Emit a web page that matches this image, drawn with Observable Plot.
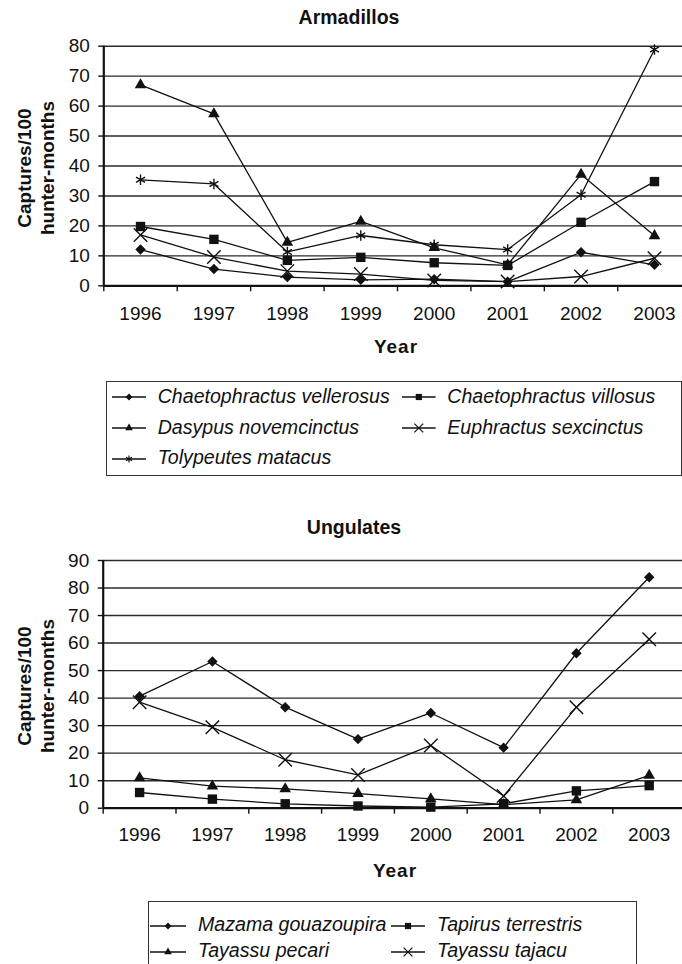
<!DOCTYPE html>
<html><head><meta charset="utf-8">
<script src="https://cdn.jsdelivr.net/npm/d3@7"></script>
<script src="https://cdn.jsdelivr.net/npm/@observablehq/plot@0.6"></script>
<style>
body{margin:0;background:#fff;}
#page{position:relative;width:682px;height:964px;overflow:hidden;font-family:"Liberation Sans",Arial,Helvetica,sans-serif;color:#111;background:#fff;}
.t{position:absolute;white-space:nowrap;line-height:1;}
.chart{position:absolute;left:0;}
.box{position:absolute;border:1.5px solid #333;box-sizing:border-box;}
</style></head><body><div id="page"></div>
<script>
// ---------- data ----------
const years = [1996, 1997, 1998, 1999, 2000, 2001, 2002, 2003];
const armadilloNames = ["Chaetophractus vellerosus", "Chaetophractus villosus", "Dasypus novemcinctus", "Euphractus sexcinctus", "Tolypeutes matacus"];
const cVellerosus   = [12.1, 5.6, 2.9, 2.0, 2.2, 1.4, 11.2, 7.0];
const cVillosus     = [19.8, 15.5, 8.5, 9.5, 7.7, 6.8, 21.2, 34.8];
const dNovemcinctus = [67.1, 57.4, 14.5, 21.5, 12.7, 7.0, 37.2, 16.7];
const eSexcinctus   = [17.0, 9.6, 4.9, 3.9, 1.8, 1.4, 3.1, 9.2];
const tMatacus      = [35.4, 34.0, 11.3, 16.8, 13.7, 12.1, 30.4, 78.9];
const ungulateNames = ["Mazama gouazoupira", "Tapirus terrestris", "Tayassu pecari", "Tayassu tajacu"];
const mGouazoupira  = [40.7, 53.3, 36.7, 25.1, 34.6, 22.0, 56.3, 83.9];
const tTerrestris   = [5.7, 3.3, 1.6, 0.8, 0.4, 1.6, 6.3, 8.2];
const tPecari       = [11.0, 8.0, 7.0, 5.3, 3.4, 1.3, 3.0, 11.9];
const tTajacu       = [38.5, 29.4, 17.6, 12.1, 22.8, 4.4, 36.7, 61.4];
const armYTicks = [0, 10, 20, 30, 40, 50, 60, 70, 80];
const ungYTicks = [0, 10, 20, 30, 40, 50, 60, 70, 80, 90];
const xTickLabels = ["1996", "1997", "1998", "1999", "2000", "2001", "2002", "2003"];
const chartTitles = ["Armadillos", "Ungulates"];
const yTitleLines = ["Captures/100", "hunter-months"];
const xTitle = "Year";

// ---------- styles ----------
const FONT = '"Liberation Sans", Arial, Helvetica, sans-serif';
const INK = "#111";
const symbolStyles = {
  diamond:  {symbol: "diamond2", r: 4.7, fill: INK, stroke: "none"},
  square:   {symbol: "square",   r: 5.3, fill: INK, stroke: "none"},
  triangle: {symbol: "triangle", r: 4.3, fill: INK, stroke: "none"},
  times:    {symbol: "times",    r: 6.2, fill: "none", stroke: INK, strokeWidth: 1.4},
  asterisk: {symbol: "asterisk", r: 4.9, fill: "none", stroke: INK, strokeWidth: 1.4}
};
const armSymbols = ["diamond", "square", "triangle", "times", "asterisk"];
const ungSymbols = ["diamond", "square", "triangle", "times"];

function makeRows(names, series) {
  const rows = [];
  names.forEach((n, i) => years.forEach((y, j) => rows.push({species: n, year: y, value: series[i][j]})));
  return rows;
}

function chart({rows, names, syms, yTicks, h, mt, mb, x0, x1, labelPad}) {
  const ymax = yTicks[yTicks.length - 1];
  const bounds = years.map(y => y - 0.5);
  const marks = [
    Plot.gridY(yTicks.slice(1), {stroke: "#2a2a2a", strokeOpacity: 1, strokeWidth: 1.4}),
    Plot.axisY(yTicks, {tickSize: 5, tickPadding: 9, tickFormat: d => String(d), label: null, fontSize: 19, stroke: INK, strokeWidth: 1.4}),
    Plot.axisX(bounds, {tickSize: 6, tickFormat: () => "", label: null, stroke: INK, strokeWidth: 1.4}),
    Plot.axisX(years, {tickSize: 0, tickPadding: labelPad, tickFormat: d => xTickLabels[years.indexOf(d)], label: null, fontSize: 19}),
    Plot.ruleY([0], {stroke: INK, strokeWidth: 2.2}),
    Plot.ruleX([years[0] - 0.5], {stroke: INK, strokeWidth: 2.2}),
    Plot.line(rows, {x: "year", y: "value", z: "species", stroke: INK, strokeWidth: 1.3})
  ];
  names.forEach((n, i) => {
    const s = symbolStyles[syms[i]];
    marks.push(Plot.dot(rows.filter(d => d.species === n), {x: "year", y: "value", ...s}));
  });
  return Plot.plot({
    width: 682, height: h, marginTop: mt, marginBottom: mb, marginLeft: x0, marginRight: 0,
    style: {fontFamily: FONT, fontSize: "19px", color: INK, background: "transparent", overflow: "visible"},
    x: {domain: [years[0] - 0.5, years[years.length - 1] + 0.5], range: [x0, x1]},
    y: {domain: [0, ymax]},
    marks
  });
}

const page = document.getElementById("page");

function text(str, x, baseline, {size = 19, weight = "normal", style = "normal", anchor = "start", spacing = 0} = {}) {
  const d = document.createElement("div");
  d.className = "t";
  d.textContent = str;
  d.style.fontSize = size + "px";
  d.style.fontWeight = weight;
  d.style.fontStyle = style;
  d.style.letterSpacing = spacing + "px";
  d.style.top = (baseline - 0.8465 * size) + "px";
  if (anchor === "middle") { d.style.left = (x - 200) + "px"; d.style.width = "400px"; d.style.textAlign = "center"; }
  else d.style.left = x + "px";
  page.appendChild(d);
}
function vtext(str, baselineX, centerY, size = 19) {
  const d = document.createElement("div");
  d.className = "t";
  d.textContent = str;
  d.style.fontSize = size + "px";
  d.style.fontWeight = "bold";
  d.style.width = "300px";
  d.style.textAlign = "center";
  d.style.left = "0px"; d.style.top = "0px";
  d.style.transformOrigin = "0 0";
  d.style.transform = `translate(${baselineX - 0.8465 * size}px, ${centerY + 150}px) rotate(-90deg)`;
  page.appendChild(d);
}

function legendItem(name, sym, lx, textX, baseline) {
  const s = symbolStyles[sym];
  const cy = baseline - 6;
  const svg = d3.create("svg").attr("width", textX - lx).attr("height", 20)
    .style("position", "absolute").style("left", lx + "px").style("top", (cy - 10) + "px");
  const w = textX - lx - 12;
  svg.append("line").attr("x1", 0).attr("x2", w).attr("y1", 10).attr("y2", 10).attr("stroke", INK).attr("stroke-width", 1.3);
  const typ = {diamond2: d3.symbolDiamond2, square: d3.symbolSquare, triangle: d3.symbolTriangle, times: d3.symbolTimes, asterisk: d3.symbolAsterisk}[s.symbol];
  const rr = s.r * 0.66;
  svg.append("path").attr("d", d3.symbol(typ, rr * rr * Math.PI)()).attr("transform", `translate(${w / 2},10)`)
    .attr("fill", s.fill).attr("stroke", s.stroke).attr("stroke-width", s.strokeWidth ? 1.2 : 0);
  page.appendChild(svg.node());
  text(name, textX, baseline, {size: 19.6, style: "italic"});
}

// ---------- top chart ----------
const top1 = chart({rows: makeRows(armadilloNames, [cVellerosus, cVillosus, dNovemcinctus, eSexcinctus, tMatacus]),
  names: armadilloNames, syms: armSymbols, yTicks: armYTicks, h: 340, mt: 45.7, mb: 340 - 285.3, x0: 103.3, x1: 690.7, labelPad: 21});
top1.classList.add("chart"); top1.style.top = "0px";
page.appendChild(top1);

// ---------- bottom chart ----------
const bot = chart({rows: makeRows(ungulateNames, [mGouazoupira, tTerrestris, tPecari, tTajacu]),
  names: ungulateNames, syms: ungSymbols, yTicks: ungYTicks, h: 360, mt: 60, mb: 360 - 307.7, x0: 102.7, x1: 685.1, labelPad: 19});
bot.classList.add("chart"); bot.style.top = "500px";
page.appendChild(bot);

// ---------- titles ----------
text(chartTitles[0], 349, 25, {size: 19.5, weight: "bold", anchor: "middle"});
text(chartTitles[1], 354, 535, {size: 19.5, weight: "bold", anchor: "middle"});
text(xTitle, 396, 353, {size: 19, weight: "bold", anchor: "middle", spacing: 1});
text(xTitle, 395, 877, {size: 19, weight: "bold", anchor: "middle", spacing: 1});
vtext(yTitleLines[0], 31, 168);
vtext(yTitleLines[1], 54, 168);
vtext(yTitleLines[0], 31, 686);
vtext(yTitleLines[1], 54, 686);

// ---------- legends ----------
const b1 = document.createElement("div"); b1.className = "box";
Object.assign(b1.style, {left: "105.7px", top: "381px", width: "576px", height: "95px"});
page.appendChild(b1);
const b2 = document.createElement("div"); b2.className = "box";
Object.assign(b2.style, {left: "148.3px", top: "901px", width: "489px", height: "90px"});
page.appendChild(b2);

legendItem(armadilloNames[0], armSymbols[0], 111.7, 157.7, 403.3);
legendItem(armadilloNames[1], armSymbols[1], 401.7, 447.3, 403.3);
legendItem(armadilloNames[2], armSymbols[2], 111.7, 157.7, 434.2);
legendItem(armadilloNames[3], armSymbols[3], 401.7, 447.3, 434.2);
legendItem(armadilloNames[4], armSymbols[4], 111.7, 157.7, 465);

legendItem(ungulateNames[0], ungSymbols[0], 150, 198, 932);
legendItem(ungulateNames[1], ungSymbols[1], 391, 437, 932);
legendItem(ungulateNames[2], ungSymbols[2], 150, 198, 958);
legendItem(ungulateNames[3], ungSymbols[3], 391, 437, 958);
</script>
</body></html>
